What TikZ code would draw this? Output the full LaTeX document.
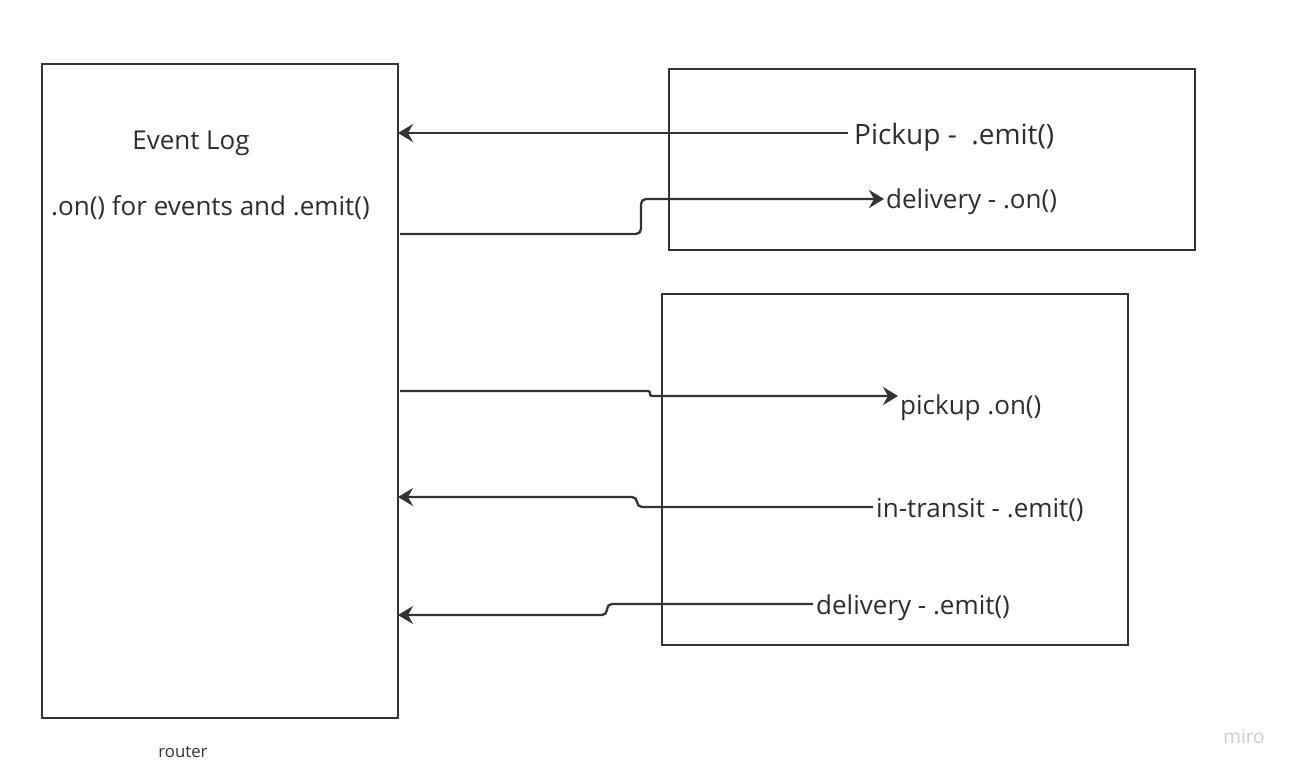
\documentclass[tikz,border=0pt]{standalone}
\usepackage{fontspec}
\setmainfont{Open Sans}
\usetikzlibrary{arrows.meta}
\definecolor{ink}{HTML}{333333}
\tikzset{
  box/.style={draw=ink, line width=2.3pt},
  lbl/.style={text=ink!90!black, inner sep=0pt, anchor=west, font=\fontsize{26}{30}\selectfont},
  arr/.style={draw=ink, line width=2.3pt, rounded corners=5pt, -{Stealth[length=15pt,width=18pt,inset=5pt]}},
}
\begin{document}
\begin{tikzpicture}[x=1pt,y=-1pt]
\useasboundingbox[fill=white] (0,0) rectangle (1295,772);
% boxes
\draw[box] (42,64) rectangle (398,718);
\node[inner sep=0pt] (log) at (220,391) [minimum width=356pt, minimum height=654pt] {};
\draw[box] (669,69) rectangle (1195,250);
\draw[box] (662,294) rectangle (1128,645);
% texts
\node[lbl, anchor=center] (title) at (191,143) {Event Log};
\node[lbl] (desc) at (51,208) {.on() for events and .emit()};
\node[lbl, font=\fontsize{28}{32}\selectfont] (pe) at (854,137) {Pickup -\ \ .emit()};
\node[lbl] (don) at (886,202) {delivery - .on()};
\node[lbl] (pon) at (900,408) {pickup .on()};
\node[lbl] (ite) at (876,510) {in-transit - .emit()};
\node[lbl] (dem) at (816,608) {delivery - .emit()};
\node[text=ink, font=\fontsize{16.8}{19}\selectfont, inner sep=0pt] (router) at (183,752) {router};
\node[text=black!20, font=\fontsize{19}{22}\selectfont, inner sep=0pt] (miro) at (1244,737) {miro};
% edge points on the log box
\coordinate (a1) at (398,133);
\coordinate (a2) at (400,234);
\coordinate (a3) at (400,391);
\coordinate (a4) at (398,497);
\coordinate (a5) at (398,615);
% connectors
\draw[arr] (848,133) -- (a1);
\draw[arr] (a2) -- (641,234) -- (641,199) -- ([xshift=-2pt]don.west |- 0,199);
\draw[arr, rounded corners=2pt] (a3) -- (650,391) -- (650,396) -- ([xshift=-2pt]pon.west |- 0,396);
\draw[arr] ([xshift=-3pt]ite.west |- 0,507) -- (637,507) -- (637,497) -- (a4);
\draw[arr] ([xshift=-3pt]dem.west |- 0,604) -- (607,604) -- (607,615) -- (a5);
\end{tikzpicture}
\end{document}
